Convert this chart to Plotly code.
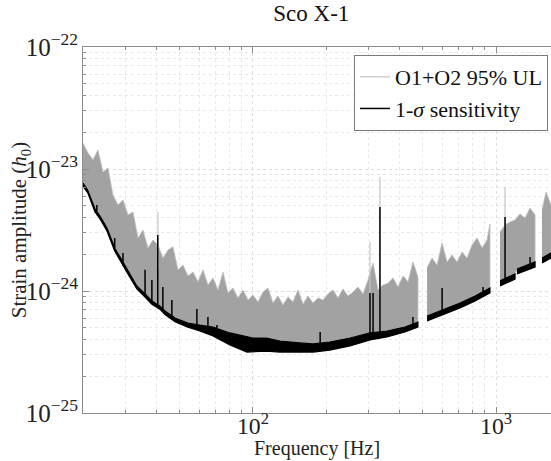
import plotly.graph_objects as go

STRAIN = 1e-24  # strain lists below are in units of 1e-24

# O1+O2 95% upper limit: top of the noisy band, None marks the frequency gaps
ul_freq = [20.0, 20.97, 21.98, 23.05, 24.17, 25.34, 26.57, 27.86, 29.21, 30.63,
           32.11, 33.67, 35.30, 37.01, 38.81, 40.69, 42.66, 44.73, 46.90, 49.17,
           51.56, 54.06, 56.68, 59.43, 62.31, 65.33, 68.50, 71.82, 75.30, 78.96,
           82.79, 86.80, 91.01, 95.43, 100.0, 104.9, 110.0, 115.3, 120.9, 126.8,
           132.9, 139.4, 146.1, 153.2, 160.7, 168.5, 176.6, 185.2, 194.2, 203.6,
           213.5, 223.8, 234.7, 246.1, 258.0, 270.5, 283.6, 297.4, 311.8, 326.9,
           342.8, 359.4, 376.8, 395.1, 414.3, 434.4, 455.4, 477.5, None,
           520.2, 545.5, 571.9, 599.6, 628.7, 659.2, 691.1, 724.6, 759.7, 796.5,
           835.1, 875.6, 918.0, 944.0, None,
           1038, 1089, 1142, 1197, 1255, 1316, 1380, 1447, None,
           1545, 1606, 1683]
ul_top = [16.3, 13.5, 11.9, 14.3, 9.44, 10.2, 6.12, 5.07, 5.57, 4.20,
          4.45, 2.72, 3.16, 2.25, 2.62, 2.38, 1.86, 2.17, 2.30, 1.49,
          1.63, 1.33, 1.43, 1.19, 1.49, 1.12, 1.28, 1.02, 1.43, 0.964,
          1.06, 0.877, 1.02, 0.844, 0.927, 0.813, 0.981, 1.06, 0.797, 0.910,
          0.768, 0.893, 0.813, 1.02, 0.782, 0.910, 0.797, 0.877, 0.844, 0.945,
          1.02, 0.877, 1.04, 0.910, 0.981, 1.08, 0.945, 1.23, 1.70, 1.02,
          1.12, 1.16, 1.28, 1.08, 1.33, 1.19, 1.73, 1.30, None,
          1.55, 1.86, 1.63, 2.47, 1.73, 1.97, 1.73, 2.09, 1.86, 2.38,
          2.72, 2.25, 2.62, 3.54, None,
          3.05, 3.48, 3.68, 3.82, 4.28, 3.97, 4.79, 4.20, None,
          4.61, 6.48, 5.07]

# tall isolated UL lines
ul_spike_freq = [40.69, 303, 333, 1089]
ul_spike_base = [1.5, 0.9, 0.9, 3.3]
ul_spike_top = [4.45, 2.52, 8.59, 7.12]

# 1-sigma sensitivity: upper and lower edge of the black curve
sens_freq = [20.0, 20.9, 22.4, 23.5, 25.1, 27.0, 28.9, 30.6, 33.3, 36.0,
             38.4, 41.4, 43.5, 47.8, 54.0, 60.5, 68.5, 80.4, 94.5, 100,
             114, 129, 156, 177, 207, 251, 303, 356, 422, 477, None,
             520.2, 617, 711, 820, 944, None,
             1038, 1197, None,
             1219, 1447, None,
             1545, 1683]
sens_hi = [7.68, 6.73, 4.70, 4.12, 3.28, 2.25, 1.79, 1.46, 1.10, 0.945,
           0.828, 0.754, 0.686, 0.601, 0.547, 0.526, 0.507, 0.453, 0.420, 0.412,
           0.412, 0.389, 0.375, 0.368, 0.382, 0.412, 0.453, 0.470, 0.507, 0.557, None,
           0.624, 0.712, 0.797, 0.910, 1.06, None,
           1.21, 1.38, None,
           1.51, 1.73, None,
           1.86, 2.05]
sens_lo = [7.20, 6.40, 4.45, 3.90, 3.10, 2.13, 1.70, 1.38, 1.04, 0.890,
           0.780, 0.710, 0.640, 0.560, 0.505, 0.470, 0.428, 0.361, 0.316, 0.316,
           0.322, 0.316, 0.316, 0.316, 0.328, 0.354, 0.397, 0.420, 0.461, 0.507, None,
           0.568, 0.648, 0.726, 0.828, 0.964, None,
           1.10, 1.25, None,
           1.38, 1.57, None,
           1.70, 1.86]

# narrow lines sticking out of the sensitivity curve
sens_spike_freq = [22.8, 27.0, 29.2, 36.0, 38.4, 40.6, 42.6, 46.4, 58.8, 65.3,
                   71.1, 189, 303, 312, 333, 455, 600, 884, 1089, 1380]
sens_spike_base = [4.5, 2.25, 1.6, 0.94, 0.82, 0.77, 0.70, 0.62, 0.53, 0.51,
                   0.48, 0.37, 0.45, 0.45, 0.46, 0.53, 0.64, 0.98, 1.25, 1.65]
sens_spike_top = [5.07, 2.72, 2.05, 1.49, 1.23, 2.88, 1.08, 0.844, 0.712, 0.612,
                  0.526, 0.461, 0.964, 0.964, 4.88, 0.612, 1.06, 1.08, 4.04, 1.90]

FONT = "Liberation Serif, Times New Roman, DejaVu Serif, serif"
AXIS_GREY = "#8c8c8c"
GRID = "#dedede"


def split(freq, *cols):
    segs, cur = [], []
    for row in zip(freq, *cols):
        if row[0] is None:
            segs.append(cur)
            cur = []
        else:
            cur.append(row)
    segs.append(cur)
    return segs


def spikes(freq, base, top):
    xs, ys = [], []
    for f, b, t in zip(freq, base, top):
        xs += [f, f, None]
        ys += [b * STRAIN, t * STRAIN, None]
    return xs, ys


fig = go.Figure()

sens_segs = split(sens_freq, sens_hi, sens_lo)
all_sens = [r for seg in sens_segs for r in seg]

# grey UL band, closed down onto the sensitivity curve
for seg in split(ul_freq, ul_top):
    f0, f1 = seg[0][0], seg[-1][0]
    below = [r for r in all_sens if f0 * 0.99 <= r[0] <= f1 * 1.01][::-1]
    xs = [r[0] for r in seg] + [r[0] for r in below]
    ys = [r[1] * STRAIN for r in seg] + [r[1] * STRAIN for r in below]
    fig.add_trace(go.Scatter(x=xs, y=ys, mode="lines", fill="toself",
                             fillcolor="#a2a2a2",
                             line=dict(color="#bdbdbd", width=0.8),
                             showlegend=False, hoverinfo="skip"))

sx, sy = spikes(ul_spike_freq, ul_spike_base, ul_spike_top)
fig.add_trace(go.Scatter(x=sx, y=sy, mode="lines", name="O1+O2 95% UL",
                         line=dict(color="#c4c4c4", width=1.2)))

# black sensitivity band
for seg in sens_segs:
    xs = [r[0] for r in seg] + [r[0] for r in seg[::-1]]
    ys = [r[1] * STRAIN for r in seg] + [r[2] * STRAIN for r in seg[::-1]]
    fig.add_trace(go.Scatter(x=xs, y=ys, mode="lines", fill="toself",
                             fillcolor="black", line=dict(color="black", width=1.2),
                             showlegend=False, hoverinfo="skip"))

sx, sy = spikes(sens_spike_freq, sens_spike_base, sens_spike_top)
fig.add_trace(go.Scatter(x=sx, y=sy, mode="lines", name="1-<i>σ</i> sensitivity",
                         line=dict(color="black", width=1.5)))

axis_common = dict(
    type="log", tickmode="linear", tick0=0, dtick=1, exponentformat="power",
    ticks="inside", ticklen=6, tickcolor=AXIS_GREY, showline=True,
    linecolor=AXIS_GREY, linewidth=1, showgrid=True, gridcolor=GRID,
    griddash="dot", zeroline=False,
    tickfont=dict(family=FONT, size=20, color="#222"),
    minor=dict(dtick="D1", ticks="inside", ticklen=3, tickcolor=AXIS_GREY,
               showgrid=True, gridcolor="#e8e8e8", griddash="dot"),
)

fig.update_layout(
    width=551, height=461,
    margin=dict(l=83, r=0, t=47, b=48),
    paper_bgcolor="white", plot_bgcolor="white",
    font=dict(family=FONT, color="#222"),
    title=dict(text="Sco X-1", font=dict(family=FONT, size=23, color="#111"),
               xref="container", x=0.565, xanchor="center",
               yref="container", y=0.972, yanchor="middle"),
    xaxis=dict(axis_common, range=[1.30103, 3.226], mirror="ticks",
               ticklabelstandoff=-8, tickfont=dict(family=FONT, size=19, color="#222")),
    yaxis=dict(axis_common, range=[-25, -22], mirror=False),
    legend=dict(x=0.9936, xanchor="right", y=0.978, yanchor="top",
                bgcolor="white", bordercolor="#7a7a7a", borderwidth=1,
                font=dict(family=FONT, size=22, color="#111"),
                itemwidth=30, tracegroupgap=0),
    showlegend=True,
    annotations=[
        dict(text="Frequency [Hz]", xref="paper", yref="paper", x=0.5, y=-0.098,
             xanchor="center", yanchor="middle", showarrow=False,
             font=dict(family=FONT, size=20, color="#222")),
        dict(text="Strain amplitude (<i>h</i><sub>0</sub>)", textangle=-90,
             xref="paper", yref="paper", x=-0.134, y=0.5,
             xanchor="center", yanchor="middle", showarrow=False,
             font=dict(family=FONT, size=21, color="#222")),
    ],
)

# the page's default body margin would shift the figure off the window
fig.write_html("out.html", config={"displayModeBar": False},
               post_script="document.body.style.margin='0';")
